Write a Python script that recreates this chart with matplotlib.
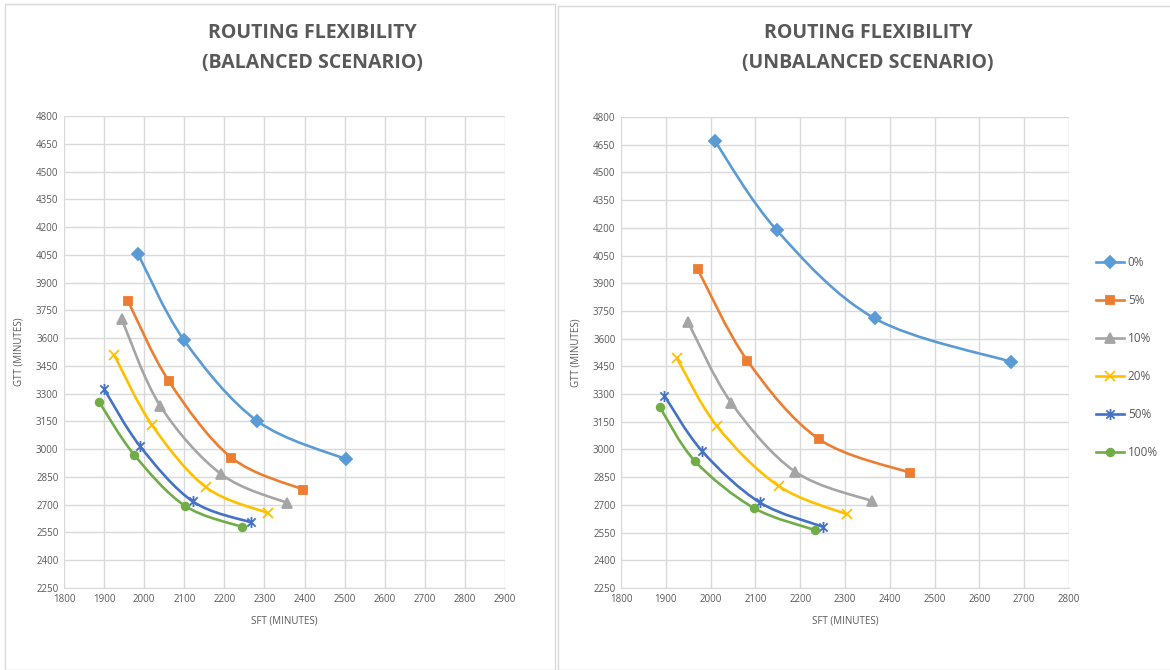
import matplotlib
matplotlib.use("Agg")
import matplotlib.pyplot as plt
from matplotlib.path import Path
from matplotlib.patches import PathPatch, Rectangle
from matplotlib.lines import Line2D
import numpy as np

plt.rcParams['font.family'] = ['Open Sans', 'DejaVu Sans']

labels = ["0%", "5%", "10%", "20%", "50%", "100%"]
colors = ["#5B9BD5", "#ED7D31", "#A5A5A5", "#FFC000", "#4472C4", "#70AD47"]

# Balanced scenario: SFT (x) and GTT (y)
bal_x = [
    [1984, 2099, 2282, 2504],
    [1959, 2062, 2217, 2397],
    [1944, 2040, 2192, 2357],
    [1925, 2019, 2155, 2309],
    [1900, 1990, 2121, 2267],
    [1888, 1975, 2101, 2244],
]
bal_y = [
    [4057, 3590, 3152, 2945],
    [3803, 3366, 2955, 2781],
    [3702, 3234, 2865, 2709],
    [3510, 3132, 2793, 2655],
    [3325, 3015, 2718, 2604],
    [3254, 2970, 2695, 2580],
]
# Unbalanced scenario
unb_x = [
    [2010, 2148, 2366, 2670],
    [1971, 2082, 2242, 2445],
    [1949, 2046, 2189, 2361],
    [1925, 2014, 2152, 2305],
    [1897, 1981, 2110, 2251],
    [1887, 1965, 2096, 2234],
]
unb_y = [
    [4668, 4186, 3710, 3475],
    [3976, 3481, 3056, 2874],
    [3692, 3253, 2879, 2720],
    [3493, 3127, 2802, 2648],
    [3291, 2991, 2713, 2581],
    [3228, 2937, 2684, 2563],
]

yticks = list(range(2250, 4801, 150))

star = Path([(0, -1), (0, 1), (-0.75, -0.75), (0.75, 0.75), (-0.75, 0.75), (0.75, -0.75)],
            [Path.MOVETO, Path.LINETO, Path.MOVETO, Path.LINETO, Path.MOVETO, Path.LINETO])
markers = ["D", "s", "^", "x", star, "o"]
msizes = [6, 5.5, 6.5, 7, 8, 5.5]

grey = "#595959"


def smooth_path(xs, ys):
    pts = np.column_stack([xs, ys]).astype(float)
    n = len(pts)
    verts = [tuple(pts[0])]
    codes = [Path.MOVETO]
    for i in range(n - 1):
        p0 = pts[i - 1] if i > 0 else pts[i]
        p1 = pts[i]
        p2 = pts[i + 1]
        p3 = pts[i + 2] if i + 2 < n else pts[i + 1]
        c1 = p1 + (p2 - p0) / 6.0
        c2 = p2 - (p3 - p1) / 6.0
        verts += [tuple(c1), tuple(c2), tuple(p2)]
        codes += [Path.CURVE4] * 3
    return Path(verts, codes)


W, H = 1170, 670
fig = plt.figure(figsize=(W / 100, H / 100), dpi=100)

# panel borders
fig.add_artist(Rectangle((5 / W, 0), 550 / W, 1 - 4 / H, transform=fig.transFigure,
                         fill=False, ec="#d9d9d9", lw=1))
fig.add_artist(Rectangle((558 / W, 0), 620 / W, 1 - 6 / H, transform=fig.transFigure,
                         fill=False, ec="#d9d9d9", lw=1))


def make_axes(rect, xs_all, ys_all, xmax, title1, title2, tcx):
    l, b, r, t = rect
    ax = fig.add_axes([l / W, 1 - b / H, (r - l) / W, (b - t) / H])
    ax.set_xlim(1800, xmax)
    ax.set_ylim(2250, 4800)
    ax.set_xticks(list(range(1800, xmax + 1, 100)))
    ax.set_yticks(yticks)
    ax.grid(True, color="#d9d9d9", lw=1)
    ax.set_axisbelow(True)
    for s in ax.spines.values():
        s.set_visible(False)
    ax.spines['bottom'].set_visible(True)
    ax.spines['bottom'].set_color("#d9d9d9")
    ax.tick_params(length=0, labelsize=7, colors=grey, pad=4)
    for xs, ys, c, m, ms in zip(xs_all, ys_all, colors, markers, msizes):
        ax.add_patch(PathPatch(smooth_path(xs, ys), fill=False, ec=c, lw=1.9, zorder=3))
        ax.plot(xs, ys, ls="none", marker=m, color=c, ms=ms, mew=1.3, zorder=4)
    ax.set_xlabel("SFT (MINUTES)", fontsize=7, color=grey, labelpad=8)
    ax.set_ylabel("GTT (MINUTES)", fontsize=7, color=grey, labelpad=8)
    fig.text(tcx / W, 1 - 33 / H, title1, ha="center", va="center", fontsize=14,
             fontweight="bold", color=grey)
    fig.text(tcx / W, 1 - 63 / H, title2, ha="center", va="center", fontsize=14,
             fontweight="bold", color=grey)
    return ax


axL = make_axes((64, 588, 505, 116), bal_x, bal_y, 2900,
                "ROUTING FLEXIBILITY", "(BALANCED SCENARIO)", 312)
axR = make_axes((621, 588, 1069, 117), unb_x, unb_y, 2800,
                "ROUTING FLEXIBILITY", "(UNBALANCED SCENARIO)", 868)

handles = [Line2D([], [], color=c, marker=m, ms=ms, lw=1.9, mew=1.3)
           for c, m, ms in zip(colors, markers, msizes)]
fig.legend(handles, labels, loc="upper left", bbox_to_anchor=(1090 / W, 1 - 250 / H),
           frameon=False, fontsize=8.5, labelcolor=grey, handlelength=2.4,
           labelspacing=2.12, handletextpad=0.3, borderpad=0)

fig.savefig("out.png", dpi=100)
